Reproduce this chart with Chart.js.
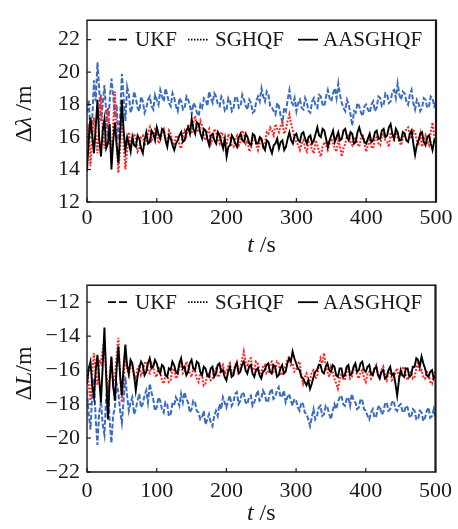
<!DOCTYPE html>
<html><head><meta charset="utf-8">
<script src="https://cdn.jsdelivr.net/npm/chart.js@4/dist/chart.umd.min.js"></script>
<style>
html,body{margin:0;padding:0;background:#fff;overflow:hidden;}
#c1{position:absolute;left:0;top:0;}
#c2{position:absolute;left:0;top:265px;}
</style></head><body>
<canvas id="c1" width="458" height="265"></canvas>
<canvas id="c2" width="458" height="264"></canvas>
<script>
const times = [0,2.5,5,7.5,10,12.5,15,17.5,20,22.5,25,27.5,30,32.5,35,37.5,40,42.5,45,47.5,
50,52.5,55,57.5,60,62.5,65,67.5,70,72.5,75,77.5,80,82.5,85,87.5,90,92.5,95,97.5,
100,102.5,105,107.5,110,112.5,115,117.5,120,122.5,125,127.5,130,132.5,135,137.5,140,142.5,145,147.5,
150,152.5,155,157.5,160,162.5,165,167.5,170,172.5,175,177.5,180,182.5,185,187.5,190,192.5,195,197.5,
200,202.5,205,207.5,210,212.5,215,217.5,220,222.5,225,227.5,230,232.5,235,237.5,240,242.5,245,247.5,
250,252.5,255,257.5,260,262.5,265,267.5,270,272.5,275,277.5,280,282.5,285,287.5,290,292.5,295,297.5,
300,302.5,305,307.5,310,312.5,315,317.5,320,322.5,325,327.5,330,332.5,335,337.5,340,342.5,345,347.5,
350,352.5,355,357.5,360,362.5,365,367.5,370,372.5,375,377.5,380,382.5,385,387.5,390,392.5,395,397.5,
400,402.5,405,407.5,410,412.5,415,417.5,420,422.5,425,427.5,430,432.5,435,437.5,440,442.5,445,447.5,
450,452.5,455,457.5,460,462.5,465,467.5,470,472.5,475,477.5,480,482.5,485,487.5,490,492.5,495,497.5,
500];
const seriesNames = ['UKF','SGHQF','AASGHQF'];
const xTicks = [0,100,200,300,400,500];
const yTicksTop = [12,14,16,18,20,22];
const yTicksBottom = [-22,-20,-18,-16,-14,-12];

// Δλ (top panel)
const latUKF = [17.5,18.3,16.2,17.0,19.5,18.2,20.6,19.0,17.0,18.0,19.2,17.5,16.0,18.3,19.6,18.6,17.2,18.0,15.8,17.3,
19.9,18.4,17.0,19.1,18.6,17.5,17.9,18.8,18.4,17.8,17.6,18.5,18.2,17.5,17.8,18.3,18.5,17.9,17.7,18.6,
18.3,18.0,18.9,18.5,18.2,19.0,18.6,18.1,17.9,18.7,18.4,17.9,17.6,18.4,18.2,17.7,17.8,18.5,18.3,17.9,
17.4,18.1,17.9,17.5,17.3,18.0,17.8,18.4,18.3,17.9,18.8,18.4,18.1,18.7,18.5,18.0,17.9,18.5,18.3,17.6,
17.7,18.4,18.2,17.6,17.8,18.5,18.4,17.8,17.9,18.6,18.3,17.9,17.7,18.3,18.1,17.5,17.6,18.2,18.5,18.2,
19.0,18.5,18.2,18.8,18.6,17.9,17.8,17.6,17.4,18.1,17.9,17.3,16.9,17.8,17.6,18.3,18.9,18.2,18.0,18.4,
17.6,18.1,18.3,17.8,17.7,18.4,18.1,17.6,17.5,18.2,18.4,17.9,17.8,18.6,18.5,18.0,17.9,18.5,18.9,18.4,
18.2,18.7,19.0,18.4,19.3,18.6,18.1,17.8,17.6,18.3,18.0,17.4,16.7,17.6,17.5,18.1,17.9,17.5,17.3,17.9,
18.0,17.7,17.5,18.0,18.2,17.6,17.8,18.5,18.4,17.9,18.0,18.7,18.6,18.1,18.2,18.8,18.9,18.4,19.3,18.6,
18.3,18.8,18.7,18.2,18.0,18.6,18.9,18.1,17.7,18.3,18.1,17.6,17.8,18.4,18.3,17.8,17.9,18.5,18.4,17.9,
18.1];
const latSGHQF = [15.5,16.8,14.2,15.9,17.2,16.1,15.0,17.0,18.6,16.4,15.3,16.9,17.8,15.9,14.6,16.7,18.8,15.6,13.8,15.4,
17.5,15.6,14.0,15.2,16.3,15.4,15.6,16.2,15.9,15.1,15.3,16.0,16.1,15.5,15.7,16.3,16.6,15.8,16.0,16.5,
16.4,15.6,15.8,16.3,16.5,15.9,15.6,16.4,16.2,15.7,15.5,16.1,16.0,15.5,15.3,16.1,16.4,16.1,16.8,16.4,
16.2,16.9,17.3,16.5,16.3,17.0,16.7,16.0,15.8,16.3,16.5,15.6,15.9,16.5,16.3,15.8,15.6,16.3,16.1,15.6,
15.5,16.2,16.0,15.5,15.4,15.9,16.1,15.5,15.7,16.4,16.2,15.6,15.8,15.1,15.3,15.9,16.0,15.5,15.2,15.7,
15.9,15.4,15.6,16.3,16.2,16.6,16.4,16.1,16.8,16.5,16.3,16.7,16.9,16.2,16.5,17.0,17.4,16.8,16.4,15.9,
15.7,15.5,15.2,15.6,15.8,15.3,15.1,15.7,15.6,15.2,15.0,15.8,15.5,15.1,14.8,15.4,15.7,15.5,15.2,15.6,
15.9,15.6,15.3,15.1,15.8,15.4,14.8,15.3,15.6,16.0,16.1,15.7,15.5,15.9,16.0,15.6,15.4,15.9,16.2,15.6,
15.1,15.5,15.8,15.4,15.3,15.9,16.0,15.6,15.5,16.1,16.2,15.8,15.7,15.4,16.3,15.9,15.8,16.4,16.0,15.7,
15.5,15.9,16.2,16.5,16.6,16.1,15.9,16.4,16.3,15.8,15.6,16.2,15.4,15.8,16.1,15.7,15.5,16.3,16.9,16.1,
15.6];
const latAASGHQF = [13.9,15.8,17.2,16.1,15.0,16.6,18.3,15.9,14.8,16.4,17.1,15.3,15.6,16.8,14.0,15.7,16.9,15.5,14.4,16.2,
18.3,16.4,15.2,16.0,15.6,15.1,16.0,15.5,15.4,16.1,15.9,15.3,15.0,15.8,16.3,15.6,15.7,16.4,16.2,15.8,
16.6,16.2,15.9,16.5,16.4,15.8,15.4,16.1,15.9,15.5,15.2,15.6,15.8,16.1,16.3,15.7,15.8,16.4,16.6,16.2,
17.1,16.5,16.2,16.9,16.8,16.2,15.9,16.5,16.4,15.9,15.5,16.1,16.2,15.8,15.6,16.3,16.1,15.7,15.3,15.9,
14.8,15.4,15.5,16.1,15.9,15.6,15.4,16.0,16.2,15.8,15.7,16.2,16.0,15.6,15.5,16.2,16.1,15.6,15.6,16.0,
15.9,15.4,15.2,15.8,15.7,15.3,15.0,15.5,15.6,15.9,15.3,15.7,15.8,15.2,15.4,15.9,16.3,15.8,15.6,16.1,
16.2,15.8,15.7,16.2,16.3,15.9,15.6,16.0,16.1,15.6,15.8,16.2,16.6,16.1,16.0,16.5,16.4,15.9,15.4,15.8,
16.1,16.4,15.7,16.0,16.3,15.8,15.9,16.4,16.5,16.0,15.8,16.3,16.2,15.6,15.7,16.3,16.6,16.2,16.0,15.7,
15.6,15.9,16.2,15.7,15.8,16.3,16.4,15.9,15.9,16.4,16.5,16.0,16.1,16.6,16.8,16.2,15.9,16.5,16.3,15.8,
15.8,16.3,16.2,15.8,15.7,16.2,16.4,15.6,14.9,15.5,15.8,16.2,16.3,15.7,15.5,16.0,16.1,15.6,15.2,15.8,
15.6];

// ΔL (bottom panel)
const lonUKF = [-17.2,-18.6,-19.5,-17.4,-16.5,-18.9,-20.4,-18.5,-17.8,-19.2,-19.8,-17.6,-16.9,-19.0,-20.3,-18.7,-18.2,-16.8,-17.3,-18.4,
-19.1,-17.8,-16.4,-17.5,-18.4,-17.9,-17.6,-18.6,-18.3,-17.8,-17.4,-18.2,-18.0,-17.5,-17.2,-17.9,-16.8,-17.3,-17.7,-18.4,
-18.2,-17.6,-17.8,-18.3,-18.5,-17.9,-18.0,-18.7,-18.6,-18.0,-18.1,-17.6,-17.8,-18.1,-17.4,-17.9,-17.3,-17.7,-17.9,-18.5,
-18.3,-17.8,-17.9,-18.4,-18.5,-18.9,-18.8,-18.4,-19.2,-18.9,-18.6,-19.1,-19.3,-18.7,-18.4,-18.7,-18.0,-18.3,-17.6,-17.9,
-18.2,-17.8,-17.5,-18.1,-17.9,-17.4,-17.3,-18.0,-17.8,-17.3,-17.4,-17.9,-18.0,-17.6,-17.5,-18.1,-17.9,-17.5,-17.2,-17.8,
-17.7,-17.2,-17.4,-17.9,-17.8,-17.3,-17.1,-17.7,-17.6,-17.2,-17.0,-17.6,-17.5,-17.2,-17.9,-17.6,-17.4,-17.8,-18.1,-17.7,
-17.8,-18.2,-18.4,-17.9,-18.0,-18.5,-18.6,-18.9,-19.3,-18.8,-18.3,-18.9,-18.7,-18.2,-18.1,-18.7,-18.6,-18.1,-18.2,-18.6,
-18.9,-18.4,-18.0,-18.3,-17.9,-17.6,-17.5,-18.0,-18.1,-17.7,-17.6,-18.1,-17.4,-17.8,-17.9,-18.3,-18.2,-17.7,-17.8,-18.3,
-18.4,-18.7,-18.9,-18.5,-18.3,-18.8,-18.7,-18.2,-18.1,-18.6,-18.5,-18.0,-17.9,-18.4,-18.3,-17.9,-17.8,-18.3,-18.4,-18.1,
-18.0,-18.4,-18.5,-18.1,-18.2,-18.7,-18.8,-18.3,-18.4,-18.9,-18.9,-18.4,-18.5,-19.0,-18.8,-18.4,-18.2,-18.8,-18.7,-18.3,
-18.9];
const lonSGHQF = [-16.0,-16.9,-17.8,-16.2,-15.0,-16.1,-16.9,-15.4,-15.6,-14.8,-14.2,-16.0,-17.1,-16.4,-15.3,-16.8,-16.4,-15.2,-14.1,-16.3,
-17.9,-16.5,-15.2,-15.9,-16.3,-15.6,-15.8,-16.4,-16.5,-15.9,-15.7,-16.3,-16.1,-15.6,-15.5,-16.1,-16.2,-15.6,-15.8,-16.3,
-16.4,-15.8,-16.0,-16.6,-16.8,-16.3,-16.2,-16.7,-16.6,-16.0,-15.9,-16.5,-16.3,-15.8,-15.6,-16.2,-16.1,-15.5,-15.7,-16.2,
-16.4,-15.9,-16.0,-16.5,-16.7,-16.2,-16.3,-16.9,-16.8,-16.3,-16.2,-16.6,-16.5,-16.0,-15.9,-16.4,-16.3,-15.9,-15.7,-16.2,
-16.1,-15.8,-15.6,-16.1,-16.2,-15.7,-15.5,-16.0,-15.9,-15.4,-14.9,-15.5,-15.8,-15.4,-15.3,-15.9,-16.0,-15.5,-15.6,-16.1,
-16.2,-15.8,-15.7,-16.2,-16.1,-15.6,-15.5,-16.1,-16.0,-15.5,-15.6,-16.2,-16.3,-15.9,-15.8,-15.4,-15.2,-15.7,-15.6,-16.1,
-16.0,-15.6,-15.5,-16.3,-16.8,-16.4,-16.2,-16.7,-16.6,-16.1,-16.0,-16.5,-16.4,-15.8,-15.3,-15.6,-15.0,-15.7,-16.1,-16.4,
-15.8,-16.1,-16.5,-16.8,-17.1,-16.6,-16.2,-16.5,-16.6,-16.1,-15.9,-16.5,-16.4,-15.9,-15.8,-16.3,-16.5,-16.1,-16.0,-16.5,
-16.7,-16.2,-16.1,-16.5,-16.3,-15.9,-15.7,-16.2,-16.4,-16.0,-15.8,-16.3,-16.6,-16.2,-16.0,-16.6,-16.5,-16.1,-15.9,-16.4,
-16.3,-15.9,-15.8,-16.3,-16.6,-16.2,-16.1,-16.5,-16.4,-15.9,-15.6,-16.1,-16.0,-16.4,-16.5,-16.1,-16.2,-16.7,-16.8,-16.3,
-16.0];
const lonAASGHQF = [-16.8,-15.9,-15.5,-16.9,-17.6,-16.0,-15.1,-16.5,-17.9,-15.8,-13.5,-16.4,-18.9,-16.7,-15.2,-16.9,-17.8,-15.9,-14.6,-16.3,
-17.5,-15.8,-14.5,-15.7,-16.2,-15.4,-15.6,-16.3,-17.2,-16.4,-15.9,-15.5,-15.7,-16.3,-16.1,-15.6,-15.3,-15.9,-15.8,-15.4,
-15.6,-16.0,-16.2,-15.7,-15.8,-16.3,-16.4,-15.9,-16.0,-15.5,-15.7,-16.1,-16.2,-15.6,-15.3,-15.9,-15.8,-16.3,-16.1,-15.6,
-15.4,-15.9,-16.0,-15.5,-15.6,-16.1,-16.3,-15.8,-15.9,-16.3,-16.4,-15.9,-15.8,-16.4,-16.2,-15.7,-15.6,-16.1,-16.0,-16.4,
-16.6,-16.1,-15.8,-16.4,-16.3,-15.8,-15.6,-16.2,-16.1,-15.7,-15.5,-16.0,-16.2,-15.8,-15.7,-16.2,-16.4,-16.0,-15.9,-16.3,
-16.5,-16.1,-16.0,-15.7,-15.6,-16.1,-16.2,-15.7,-15.8,-16.4,-16.3,-15.9,-15.7,-16.2,-16.1,-15.6,-15.3,-15.5,-14.9,-15.3,
-15.6,-15.9,-16.0,-16.4,-16.5,-16.7,-16.9,-16.6,-17.1,-16.8,-16.4,-16.1,-16.0,-15.7,-15.7,-16.1,-16.2,-15.8,-15.6,-16.0,
-16.1,-15.7,-15.8,-16.3,-16.4,-15.9,-15.9,-16.4,-16.3,-15.8,-15.7,-16.3,-16.2,-15.8,-15.6,-16.1,-16.0,-15.6,-15.5,-16.0,
-16.1,-15.8,-15.7,-16.2,-16.3,-15.9,-15.8,-16.3,-16.5,-16.1,-16.0,-16.5,-16.4,-16.0,-15.8,-16.3,-16.2,-16.8,-17.5,-16.6,
-16.0,-16.3,-16.4,-15.9,-15.9,-16.4,-16.3,-15.8,-15.8,-15.3,-15.4,-15.8,-15.2,-15.6,-15.9,-16.3,-16.4,-16.1,-16.0,-16.5,
-16.3];

const SERIF = '"Liberation Serif","Times New Roman",serif';
const TICK_FONT = 22, LEG_FONT = 21, TITLE_FONT = 24;

function pts(ys){ return times.map((t,i)=>({x:t,y:ys[i]})); }

function drawParts(ctx, parts, size, cx, cy, rot){
  ctx.save();
  ctx.translate(cx, cy);
  if (rot) ctx.rotate(rot);
  ctx.textBaseline = 'middle';
  ctx.textAlign = 'left';
  ctx.fillStyle = '#1a1a1a';
  let total = 0;
  const ws = parts.map(p=>{ ctx.font = (p.i?'italic ':'') + size + 'px ' + SERIF; const w = ctx.measureText(p.t).width; total += w; return w; });
  let xx = -total/2;
  parts.forEach((p,k)=>{ ctx.font = (p.i?'italic ':'') + size + 'px ' + SERIF; ctx.fillText(p.t, xx, 0); xx += ws[k]; });
  ctx.restore();
}

const decor = {
  id: 'decor',
  afterDraw(chart, args, o) {
    const {ctx, chartArea: a} = chart;
    const x = chart.scales.x, y = chart.scales.y;
    ctx.save();
    ctx.strokeStyle = '#1a1a1a';
    ctx.lineWidth = 1.4;
    ctx.beginPath();
    ctx.moveTo(a.right, a.top); ctx.lineTo(a.left, a.top); ctx.lineTo(a.left, a.bottom); ctx.lineTo(a.right, a.bottom);
    ctx.stroke();
    ctx.lineWidth = 2.2;
    ctx.beginPath(); ctx.moveTo(a.right, a.top - 0.7); ctx.lineTo(a.right, a.bottom + 0.7); ctx.stroke();
    ctx.lineWidth = 1.2;
    o.yTicks.forEach(v => { const py = y.getPixelForValue(v); ctx.beginPath(); ctx.moveTo(a.left, py); ctx.lineTo(a.left + 4, py); ctx.stroke(); });
    o.xTicks.forEach(v => { const px = x.getPixelForValue(v); ctx.beginPath(); ctx.moveTo(px, a.bottom); ctx.lineTo(px, a.bottom - 4); ctx.stroke(); });
    // legend
    const ly = y.getPixelForValue(o.yTicks[o.yTicks.length - 1]);
    const L = a.left;
    const items = [
      {dash:[8,3], x0:21, x1:41, tx:48},
      {dash:[1.5,1.5], x0:101, x1:121, tx:128},
      {dash:[], x0:211, x1:231, tx:236}
    ];
    ctx.strokeStyle = '#000';
    ctx.lineWidth = 1.8;
    ctx.font = LEG_FONT + 'px ' + SERIF;
    ctx.fillStyle = '#1a1a1a';
    ctx.textBaseline = 'middle';
    items.forEach((it, k) => {
      ctx.setLineDash(it.dash);
      ctx.beginPath(); ctx.moveTo(L + it.x0, ly); ctx.lineTo(L + it.x1, ly); ctx.stroke();
      ctx.setLineDash([]);
      ctx.fillText(seriesNames[k], L + it.tx, ly + 1);
    });
    ctx.restore();
    // titles
    drawParts(ctx, o.yTitle, TITLE_FONT, 25, o.yTitleY, -Math.PI/2);
    drawParts(ctx, [{t:'t', i:true}, {t:' /s', i:false}], TITLE_FONT, (a.left + a.right)/2, o.xTitleY, 0);
  }
};

function makeChart(id, ys, yMin, yMax, yTicks, padTop, xAxisH, xPad, yTitle, yTitleY, xTitleY) {
  const fmt = v => v < 0 ? '\u2212' + Math.abs(v) : String(v);
  return new Chart(document.getElementById(id), {
    type: 'line',
    data: {
      datasets: [
        {label: seriesNames[0], data: pts(ys[0]), borderColor: '#3b6cc0', borderWidth: 2, borderDash: [5, 2], order: 2},
        {label: seriesNames[1], data: pts(ys[1]), borderColor: '#ff2626', borderWidth: 2, borderDash: [2, 1.5], order: 1},
        {label: seriesNames[2], data: pts(ys[2]), borderColor: '#000000', borderWidth: 1.9, order: 0}
      ]
    },
    options: {
      responsive: false,
      animation: false,
      devicePixelRatio: 1,
      layout: {padding: {top: padTop, right: 22, left: 0, bottom: 0}},
      elements: {point: {radius: 0}, line: {tension: 0, fill: false}},
      plugins: {
        legend: {display: false},
        tooltip: {enabled: false},
        decor: {yTicks: yTicks, xTicks: xTicks, yTitle: yTitle, yTitleY: yTitleY, xTitleY: xTitleY}
      },
      scales: {
        x: {
          type: 'linear', min: 0, max: 500,
          afterBuildTicks: s => { s.ticks = xTicks.map(v => ({value: v})); },
          afterFit: s => { s.height = xAxisH; },
          grid: {display: false, drawTicks: false},
          border: {display: false},
          ticks: {padding: xPad, color: '#1a1a1a', maxRotation: 0, font: {family: SERIF, size: TICK_FONT}}
        },
        y: {
          type: 'linear', min: yMin, max: yMax,
          afterBuildTicks: s => { s.ticks = yTicks.map(v => ({value: v})); },
          afterFit: s => { s.width = 87; },
          grid: {display: false, drawTicks: false},
          border: {display: false},
          ticks: {padding: 7, color: '#1a1a1a', callback: v => fmt(v), font: {family: SERIF, size: TICK_FONT}}
        }
      }
    },
    plugins: [decor]
  });
}

makeChart('c1', [latUKF, latSGHQF, latAASGHQF], 12, 23.2, yTicksTop, 6, 63, 3,
  [{t:'\u0394', i:false}, {t:'\u03bb', i:true}, {t:' /m', i:false}], 114, 246);
makeChart('c2', [lonUKF, lonSGHQF, lonAASGHQF], -22, -11, yTicksBottom, 13, 57, 6,
  [{t:'\u0394', i:false}, {t:'L', i:true}, {t:'/m', i:false}], 108.5, 249);
</script>
</body></html>
